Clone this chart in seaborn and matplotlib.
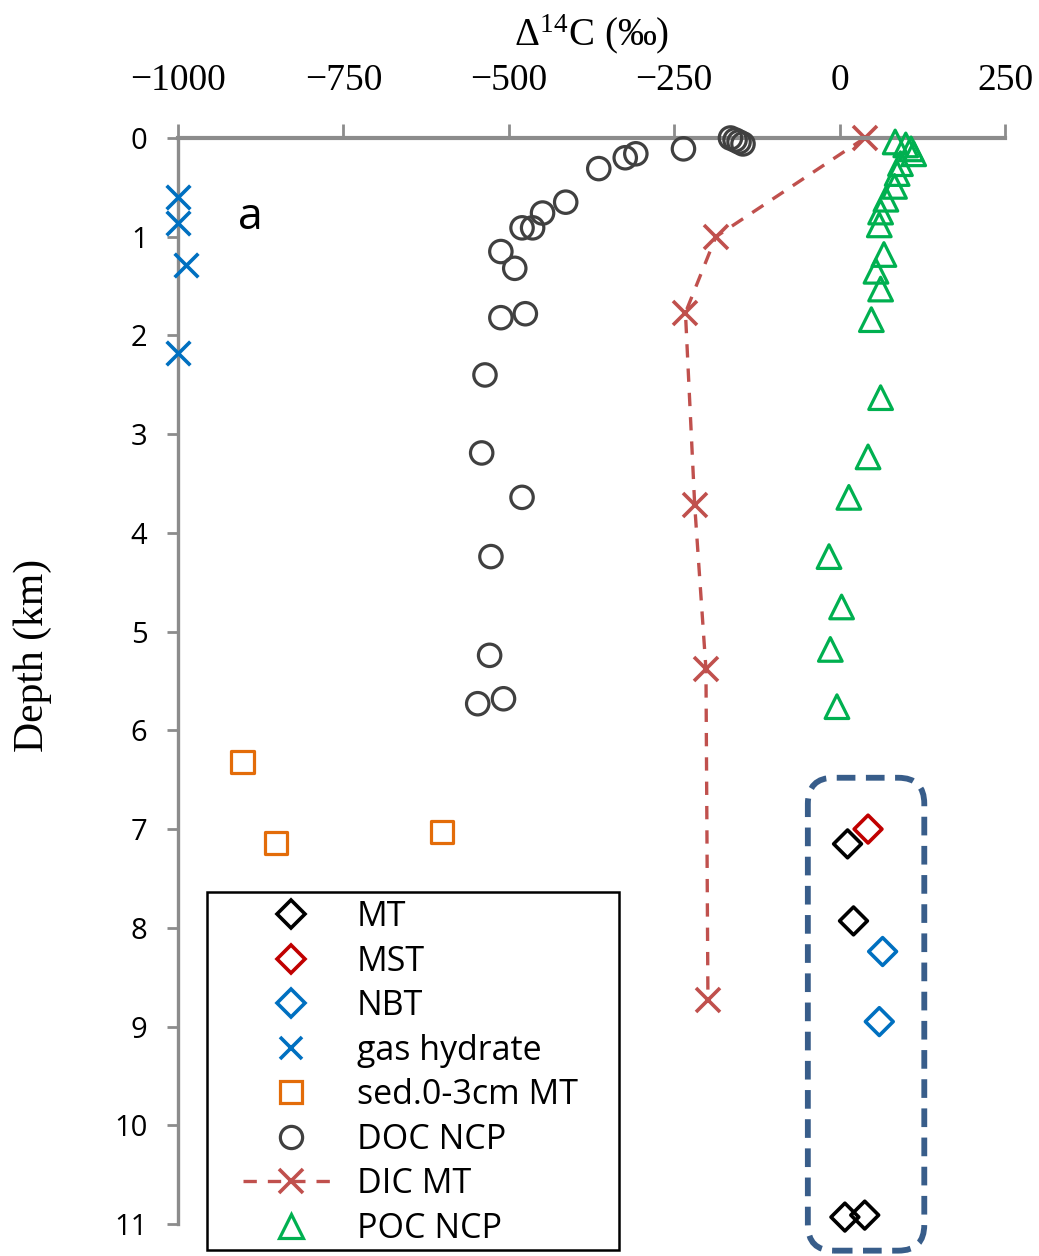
import numpy as np
import pandas as pd
import matplotlib
matplotlib.use("Agg")
import matplotlib.pyplot as plt
import seaborn as sns
from matplotlib.lines import Line2D
from matplotlib.patches import FancyBboxPatch, Rectangle
from matplotlib.transforms import IdentityTransform

# ---------------- data (Δ14C in ‰, depth in km) ----------------
mt_x = [12, 21, 8, 38]
mt_d = [7.15, 7.93, 10.93, 10.91]
mst_x = [43]
mst_d = [7.0]
nbt_x = [65, 60]
nbt_d = [8.24, 8.95]
gas_x = [-1000, -1000, -988, -1000]
gas_d = [0.60, 0.86, 1.29, 2.18]
sed_x = [-903, -601, -852]
sed_d = [6.32, 7.03, 7.14]
doc_x = [-165, -158, -152, -146, -236, -308, -324, -364, -414, -449, -464, -480,
         -512, -491, -512, -475, -536, -541, -480, -527, -529, -547, -508]
doc_d = [0.00, 0.02, 0.04, 0.06, 0.11, 0.16, 0.20, 0.31, 0.65, 0.76, 0.91, 0.91,
         1.15, 1.32, 1.82, 1.78, 2.40, 3.19, 3.64, 4.24, 5.24, 5.73, 5.68]
dic_x = [38, -187, -233, -219, -202, -199]
dic_d = [0.0, 1.0, 1.77, 3.72, 5.38, 8.73]
poc_x = [84, 100, 108, 112, 92, 87, 83, 70, 62, 60, 67, 55, 62, 48,
         62, 43, 14, -16, 3, -14, -4]
poc_d = [0.04, 0.07, 0.11, 0.16, 0.26, 0.36, 0.49, 0.62, 0.75, 0.88, 1.18, 1.35, 1.53, 1.84,
         2.63, 3.23, 3.64, 4.24, 4.75, 5.18, 5.76]

x_ticks = [-1000, -750, -500, -250, 0, 250]
y_ticks = list(range(0, 12))
legend_labels = ["MT", "MST", "NBT", "gas hydrate", "sed.0-3cm MT",
                 "DOC NCP", "DIC MT", "POC NCP"]

# ---------------- style ----------------
sns.set_theme(style="white")
plt.rcParams["font.family"] = ["Open Sans", "DejaVu Sans"]
plt.rcParams["mathtext.fontset"] = "stix"

C_BLACK = "#000000"
C_MST = "#C00000"
C_BLUE = "#0070C0"
C_ORANGE = "#E36C09"
C_DOC = "#404040"
C_DIC = "#C0504D"
C_POC = "#00B050"
C_AX = "#8C8C8C"
C_BOX = "#385D8A"

W, H = 1039, 1256
fig = plt.figure(figsize=(W / 100, H / 100), dpi=100)
ax = fig.add_axes([178 / W, 1 - 1224 / H, (1005 - 178) / W, (1224 - 138) / H])

EW = 2.3

def open_scatter(x, d, marker, color, s, lw=EW, z=3):
    sns.scatterplot(x=x, y=d, ax=ax, marker=marker, s=s, facecolor="none",
                    edgecolor=color, linewidth=lw, zorder=z, legend=False, clip_on=False)

# DIC line
sns.lineplot(x=dic_x, y=dic_d, ax=ax, sort=False, estimator=None, color=C_DIC,
             linewidth=2.4, linestyle=(0, (4, 3.3)), marker="x", markersize=17,
             markeredgewidth=2.6, markeredgecolor=C_DIC, legend=False, zorder=2,
             clip_on=False)

open_scatter(doc_x, doc_d, "o", C_DOC, s=260)
open_scatter(poc_x, poc_d, "^", C_POC, s=290)
open_scatter(sed_x, sed_d, "s", C_ORANGE, s=270)
open_scatter(mt_x, mt_d, "D", C_BLACK, s=200, lw=2.6)
open_scatter(mst_x, mst_d, "D", C_MST, s=200, lw=2.6)
open_scatter(nbt_x, nbt_d, "D", C_BLUE, s=200, lw=2.6)
sns.scatterplot(x=gas_x, y=gas_d, ax=ax, marker="x", s=290, color=C_BLUE,
                linewidth=2.6, legend=False, zorder=4, clip_on=False)

# ---------------- axes ----------------
ax.set_xlim(-1000, 250)
ax.set_ylim(11, 0)
for side in ["right", "bottom"]:
    ax.spines[side].set_visible(False)
ax.spines["top"].set_color(C_AX)
ax.spines["top"].set_linewidth(3.0)
ax.spines["left"].set_color(C_AX)
ax.spines["left"].set_linewidth(2.4)

ax.xaxis.tick_top()
ax.xaxis.set_label_position("top")
ax.set_xticks(x_ticks)
ax.set_xticklabels([f"{v}".replace("-", "\u2212") for v in x_ticks],
                   fontfamily="Liberation Serif", fontsize=27)
ax.tick_params(axis="x", top=True, bottom=False, direction="out", length=10,
               width=2, color=C_AX, pad=19, labelcolor="black")
ax.set_yticks(y_ticks)
ax.set_yticklabels([str(v) for v in y_ticks], fontsize=21)
ax.tick_params(axis="y", left=True, direction="out", length=8, width=2,
               color=C_AX, pad=14, labelcolor="black")

ax.set_xlabel("\u0394$^{\\mathregular{14}}$C (\u2030)", fontfamily="Liberation Serif",
              fontsize=28, labelpad=13, color="black")
ax.set_ylabel("")
fig.text(33 / W, 1 - 655 / H, "Depth (km)", rotation=90, ha="center", va="center",
         fontfamily="Liberation Serif", fontsize=30, color="black")

ax.text(-890, 0.81, "a", fontsize=32, ha="center", va="center", color="black")

# ---------------- dashed rounded box around bottom-water diamonds ----------------
fig.canvas.draw()
all_dx = mt_x + mst_x + nbt_x
all_dd = mt_d + mst_d + nbt_d
(x0, y0) = ax.transData.transform((min(all_dx) - 56, max(all_dd) + 0.34))
(x1, y1) = ax.transData.transform((max(all_dx) + 63, min(all_dd) - 0.52))
box = FancyBboxPatch((x0, y0), x1 - x0, y1 - y0,
                     boxstyle="round,pad=0,rounding_size=26",
                     transform=IdentityTransform(), facecolor="none",
                     edgecolor=C_BOX, linewidth=4.2, linestyle=(0, (3.2, 1.8)),
                     zorder=1)
fig.patches.append(box)
box.set_figure(fig)

# ---------------- legend ----------------
frame = Rectangle((207, H - 1250), 619 - 207, 1250 - 892, transform=IdentityTransform(),
                  facecolor="white", edgecolor="black", linewidth=1.8, zorder=5)
fig.patches.append(frame)
frame.set_figure(fig)

def mk(marker, color, ms, mew, ls="none"):
    return Line2D([], [], marker=marker, markersize=ms, markerfacecolor="none",
                  markeredgecolor=color, markeredgewidth=mew, color=color,
                  linestyle=ls, linewidth=2.4)

handles = [
    mk("D", C_BLACK, 14, 2.6),
    mk("D", C_MST, 14, 2.6),
    mk("D", C_BLUE, 14, 2.6),
    mk("x", C_BLUE, 16, 2.6),
    mk("s", C_ORANGE, 16, 2.3),
    mk("o", C_DOC, 16, 2.3),
    mk("x", C_DIC, 17, 2.6, ls=(0, (4, 3.3))),
    mk("^", C_POC, 17, 2.3),
]
leg = fig.legend(handles=handles, labels=legend_labels, loc="upper left",
                 bbox_to_anchor=(243 / W, 1 - 900 / H), fontsize=24.5,
                 frameon=False, handlelength=2.85, handletextpad=0.5,
                 labelspacing=0.31, borderpad=0, borderaxespad=0)
leg.set_zorder(6)
for t in leg.get_texts():
    t.set_color("black")

fig.savefig("out.png", dpi=100)
